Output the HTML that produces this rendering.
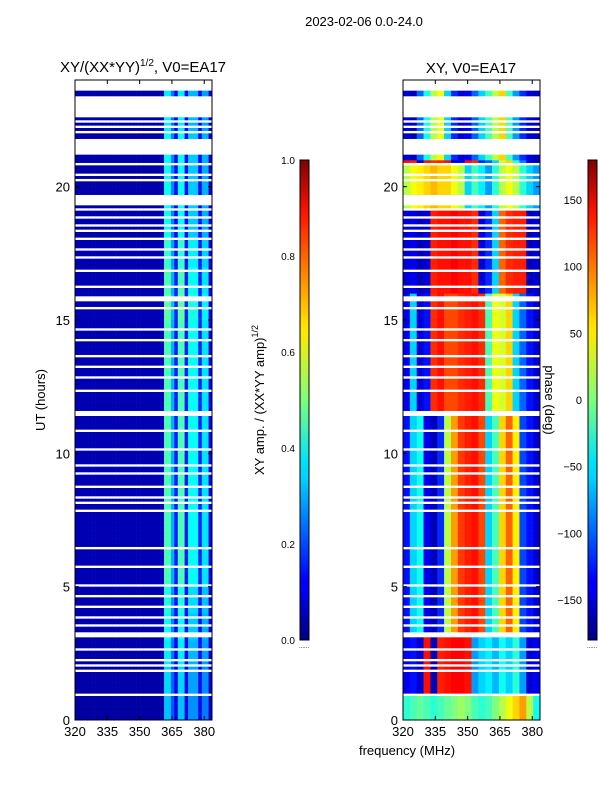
<!DOCTYPE html>
<html><head><meta charset="utf-8">
<style>
body{margin:0;background:#fff;width:600px;height:800px;overflow:hidden}
svg{display:block}
text{font-family:"Liberation Sans",sans-serif;fill:#000}
</style></head><body>
<svg id="chart" width="600" height="800">
<defs>
<linearGradient id="jet" x1="0" y1="1" x2="0" y2="0">
<stop offset="0" stop-color="#000080"/><stop offset="0.11" stop-color="#0000ff"/>
<stop offset="0.125" stop-color="#0000ff"/><stop offset="0.34" stop-color="#00d4ff"/>
<stop offset="0.375" stop-color="#00e5f7"/><stop offset="0.5" stop-color="#7dff7a"/>
<stop offset="0.64" stop-color="#ffea00"/><stop offset="0.66" stop-color="#ffe000"/>
<stop offset="0.89" stop-color="#ff1300"/><stop offset="1" stop-color="#800000"/>
</linearGradient>
</defs>
<text x="364" y="26" font-size="13" text-anchor="middle">2023-02-06 0.0-24.0</text>
<text x="143" y="72" font-size="15" text-anchor="middle">XY/(XX*YY)<tspan font-size="10" dy="-6">1/2</tspan><tspan dy="6">, V0=EA17</tspan></text>
<text x="471" y="73" font-size="15" text-anchor="middle">XY, V0=EA17</text>
<g id="left"></g>
<g id="right"></g>
<g id="axes"></g>
<text transform="translate(45,400) rotate(-90)" font-size="13" text-anchor="middle">UT (hours)</text>
<text x="407" y="755" font-size="13" text-anchor="middle">frequency (MHz)</text>
<rect x="300" y="160" width="9" height="480" fill="url(#jet)" stroke="#000" stroke-width="1"/>
<rect x="588" y="160" width="9" height="480" fill="url(#jet)" stroke="#000" stroke-width="1"/>
<text transform="translate(264,400) rotate(-90)" font-size="13" text-anchor="middle">XY amp. / (XX*YY amp)<tspan font-size="9" dy="-6">1/2</tspan></text>
<text transform="translate(545,400) rotate(90)" font-size="13" text-anchor="middle">phase (deg)</text>
<text x="304" y="648" font-size="6" text-anchor="middle" fill="#888">......</text>
<text x="592" y="648" font-size="6" text-anchor="middle" fill="#888">......</text>
</svg>
<script>
// ---- data ----
const timeBins = 240; // 0.1 h rows
const ampCols = [0.05,0.05,0.05,0.05,0.05,0.05,0.05,0.05,0.05,0.05,0.05,0.05,0.05,0.05,0.05,0.05,0.05,0.05,0.05,0.05,0.05,0.05,0.05,0.05,0.05,0.06,0.45,0.45,0.3,0.15,0.45,0.45,0.15,0.38,0.38,0.38,0.15,0.35,0.35,0.1];
const ampHourScale = [0.7,0.75,0.8,0.85,0.9,1,1,1,1,1,1,1,1,1,1,1.05,1,0.95,0.85,0.85,0.85,0.85,0.8,0.8];
const phaseSegStart = [0,1.0,3.3,11.5,16.0,19.2,20.8,21.0];
const phaseSegs = [
 [-30,-20,-10,-20,-30,-20,-10,0,10,0,-20,-30,-20,0,20,40,60,80,20,-40],
 [-140,-130,-150,130,-160,125,130,135,135,130,-80,-60,-50,-70,-40,-60,-30,-80,-150,-140],
 [-130,-60,-40,-140,-160,-120,20,80,115,125,130,110,-60,-20,60,100,50,-110,-130,-150],
 [-140,-60,-150,-130,120,130,110,110,120,125,130,120,-20,40,30,60,-60,-100,-130,-150],
 [-150,-140,-160,-150,125,130,130,135,130,130,120,-150,-120,-60,100,120,125,125,-160,-150],
 [20,40,50,60,70,60,60,40,20,-60,-20,-50,-80,-30,20,40,20,-30,-60,-80],
 [130,125,-150,130,120,125,130,-150,-140,130,120,-120,-100,-60,30,60,-30,-90,-150,-160],
 [-150,-160,-100,-40,20,40,-60,-120,-150,-140,-100,-60,-20,20,60,-20,-80,-120,-150,-160]
];
const flaggedHours = [0.9,1.8,2.0,2.2,2.6,3.1,3.2,3.5,3.8,4.2,4.6,5.0,5.7,6.4,7.8,8.1,8.3,8.7,9.2,9.5,10.1,10.8,11.4,11.5,12.3,12.8,13.2,13.6,14.2,14.6,15.4,15.7,15.8,16.2,16.8,17.3,17.6,18.0,18.3,18.5,18.8,19.1,19.3,19.4,19.5,19.6,20.2,20.4,20.8,21.2,21.3,21.4,21.5,21.6,21.7,22.0,22.2,22.4,22.6,22.7,22.8,22.9,23.0,23.1,23.2,23.3,23.6,23.7,23.8,23.9];
const xTicks = [320,335,350,365,380];
const yTicks = [0,5,10,15,20];
const ampTicks = [0.0,0.2,0.4,0.6,0.8,1.0];
const phaseTicks = [-150,-100,-50,0,50,100,150];
// ---- scales ----
const NS="http://www.w3.org/2000/svg";
const fMin=320,fMax=383.6;
const yS=h=>720-h*(640/24);
const xL=f=>75+(f-fMin)/(fMax-fMin)*137;
const xR=f=>403+(f-fMin)/(fMax-fMin)*137;
function jet(v){v=Math.max(0,Math.min(1,v));
 const c=t=>Math.round(255*Math.max(0,Math.min(1,1.5-Math.abs(4*v-t))));
 return `rgb(${c(3)},${c(2)},${c(1)})`;}
function mk(tag,attrs,parent){const e=document.createElementNS(NS,tag);for(const k in attrs)e.setAttribute(k,attrs[k]);parent.appendChild(e);return e;}
const flagged=new Set(flaggedHours.map(h=>Math.round(h*10)));
const L=document.getElementById('left'),R=document.getElementById('right');
for(let r=0;r<timeBins;r++){
 if(flagged.has(r))continue;
 const h0=r/10,h1=(r+1)/10;
 const y=yS(h1),hh=yS(h0)-yS(h1)+0.3;
 const sc=ampHourScale[Math.floor(h0)];
 const nc=ampCols.length;
 for(let c=0;c<nc;c++){
  const f0=fMin+(fMax-fMin)*c/nc,f1=fMin+(fMax-fMin)*(c+1)/nc;
  const e=mk('rect',{x:xL(f0),y:y,width:xL(f1)-xL(f0)+0.3,height:hh,fill:jet(ampCols[c]*sc)},L);
  
  
 }
 let s=0;for(let i=0;i<phaseSegStart.length;i++)if(h0>=phaseSegStart[i]-1e-9)s=i;
 const seg=phaseSegs[s];
 for(let c=0;c<seg.length;c++){
  const f0=fMin+(fMax-fMin)*c/seg.length,f1=fMin+(fMax-fMin)*(c+1)/seg.length;
  const e=mk('rect',{x:xR(f0),y:y,width:xR(f1)-xR(f0)+0.3,height:hh,fill:jet((seg[c]+180)/360)},R);
  
  
 }
}
// axes
const A=document.getElementById('axes');
[[75,xL],[403,xR]].forEach(([x0,xs],pi)=>{
 const fr=mk('rect',{x:x0,y:80,width:137,height:640,fill:'none',stroke:'#000','stroke-width':1},A);
 
 
 xTicks.forEach(v=>{const x=xs(v);
  mk('line',{x1:x,x2:x,y1:720,y2:716,stroke:'#000'},A);mk('line',{x1:x,x2:x,y1:80,y2:84,stroke:'#000'},A);
  const t=mk('text',{x:x,y:736,'font-size':13,'text-anchor':'middle'},A);t.textContent=v;
  
  });
 yTicks.forEach(v=>{const y=yS(v);
  mk('line',{x1:x0,x2:x0+4,y1:y,y2:y,stroke:'#000'},A);mk('line',{x1:x0+137,x2:x0+133,y1:y,y2:y,stroke:'#000'},A);
  const t=mk('text',{x:x0-5,y:y+5,'font-size':13,'text-anchor':'end'},A);t.textContent=v;
  
  });
});
ampTicks.forEach(v=>{const y=640-v*480;
 mk('line',{x1:300,x2:303,y1:y,y2:y,stroke:'#000'},A);mk('line',{x1:309,x2:306,y1:y,y2:y,stroke:'#000'},A);
 const t=mk('text',{x:295,y:y+4,'font-size':10,'text-anchor':'end'},A);t.textContent=v.toFixed(1);
 
 });
phaseTicks.forEach(v=>{const y=640-(v+180)/360*480;
 mk('line',{x1:588,x2:591,y1:y,y2:y,stroke:'#000'},A);mk('line',{x1:597,x2:594,y1:y,y2:y,stroke:'#000'},A);
 const t=mk('text',{x:582,y:y+4,'font-size':11,'text-anchor':'end'},A);t.textContent=v<0?'\u2212'+(-v):v;
 
 });
</script>
</body></html>
